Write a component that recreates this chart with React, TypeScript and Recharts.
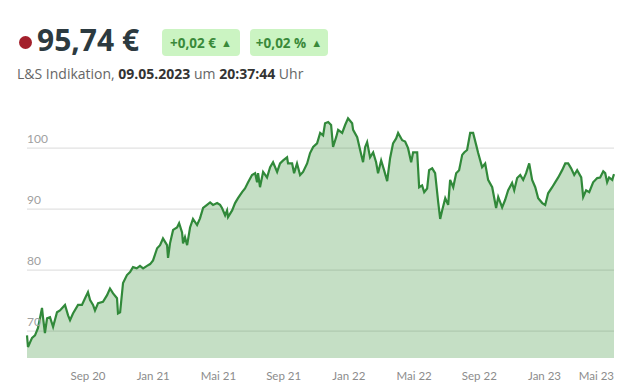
import React from 'react';
import { AreaChart, Area, XAxis, YAxis, CartesianGrid } from 'recharts';

// position on the time axis, in months since Jan 2020 (Sep 20 = 8)
const months = [
  4.26, 4.32, 4.57, 4.75, 4.93, 5.18, 5.24, 5.36, 5.49, 5.67, 5.86, 6.1, 6.28, 6.59, 6.78, 6.9, 7.08, 7.39, 7.63, 7.82,
  8.0, 8.13, 8.31, 8.43, 8.62, 8.92, 9.17, 9.35, 9.54, 9.78, 9.84, 9.97, 10.15, 10.39, 10.58, 10.76, 10.99, 11.19, 11.38, 11.62,
  11.81, 11.99, 12.24, 12.42, 12.6, 12.85, 12.91, 13.03, 13.22, 13.46, 13.59, 13.77, 13.83, 13.95, 14.08, 14.26, 14.44, 14.69, 14.87, 15.06,
  15.3, 15.49, 15.67, 15.92, 16.1, 16.22, 16.41, 16.53, 16.59, 16.84, 17.02, 17.2, 17.45, 17.63, 17.82, 18.06, 18.25, 18.37, 18.43, 18.55,
  18.74, 18.98, 19.17, 19.35, 19.6, 19.78, 19.97, 20.21, 20.27, 20.52, 20.64, 20.82, 21.01, 21.19, 21.44, 21.62, 21.81, 22.05, 22.24, 22.42,
  22.54, 22.73, 22.91, 23.03, 23.22, 23.34, 23.59, 23.77, 23.95, 24.2, 24.26, 24.51, 24.69, 24.87, 25.0, 25.12, 25.3, 25.49, 25.67, 25.79,
  25.98, 26.16, 26.35, 26.41, 26.53, 26.71, 26.9, 27.02, 27.27, 27.45, 27.63, 27.82, 27.94, 28.19, 28.31, 28.49, 28.62, 28.8, 28.92, 29.11,
  29.29, 29.48, 29.6, 29.72, 29.91, 30.09, 30.21, 30.4, 30.58, 30.76, 30.95, 31.07, 31.25, 31.44, 31.62, 31.81, 31.93, 32.17, 32.36, 32.54,
  32.79, 33.03, 33.16, 33.4, 33.58, 33.77, 34.01, 34.14, 34.32, 34.51, 34.69, 34.87, 35.06, 35.24, 35.43, 35.61, 35.86, 36.04, 36.22, 36.47,
  36.65, 36.84, 37.08, 37.27, 37.45, 37.63, 37.82, 38.0, 38.25, 38.37, 38.55, 38.74, 38.98, 39.23, 39.41, 39.6, 39.72, 39.84, 39.96, 40.15,
  40.26,
];

const prices = [
  69.3, 67.4, 68.9, 69.3, 70.5, 73.8, 72.3, 69.7, 72.1, 72.3, 70.7, 73.1, 73.4, 74.3, 72.6, 71.8, 72.9, 74.3, 74.3, 75.4,
  76.4, 75.1, 74.3, 73.4, 74.6, 74.8, 75.9, 77.0, 76.2, 75.4, 72.9, 73.1, 77.9, 79.2, 79.7, 80.5, 80.3, 80.7, 80.3, 80.7,
  81.0, 81.6, 83.6, 84.1, 85.2, 84.1, 82.0, 84.4, 86.6, 87.0, 87.7, 86.2, 84.4, 85.4, 84.1, 87.0, 88.4, 87.4, 88.5, 90.2,
  90.7, 91.1, 90.7, 91.0, 90.7, 90.2, 89.0, 89.8, 88.7, 89.8, 91.0, 91.8, 92.8, 93.4, 94.4, 95.6, 95.9, 94.4, 95.9, 93.6,
  96.1, 95.2, 96.9, 97.7, 96.1, 97.5, 98.0, 98.5, 97.5, 97.5, 95.9, 97.5, 95.6, 96.1, 97.5, 99.2, 100.2, 100.8, 102.5, 102.1,
  104.1, 104.3, 103.8, 100.2, 101.8, 103.0, 102.5, 103.8, 104.9, 104.1, 103.0, 101.8, 99.7, 97.7, 100.2, 101.0, 98.5, 99.3, 97.7, 95.9,
  98.0, 96.4, 94.6, 95.9, 98.4, 100.8, 101.6, 102.5, 101.3, 101.1, 100.0, 97.7, 99.3, 99.3, 93.6, 93.9, 92.8, 93.4, 96.4, 96.7,
  95.9, 91.1, 88.4, 89.8, 91.8, 90.7, 94.8, 93.6, 95.9, 96.4, 98.9, 99.3, 99.7, 102.5, 102.5, 100.5, 99.2, 96.9, 97.5, 94.8,
  93.6, 90.2, 92.0, 90.3, 91.5, 93.1, 94.3, 93.1, 95.1, 95.6, 94.8, 95.9, 97.5, 94.8, 93.6, 91.8, 91.0, 90.7, 92.6, 93.6,
  94.4, 95.2, 96.4, 97.5, 97.5, 96.7, 95.6, 96.4, 95.2, 92.0, 93.1, 92.8, 94.4, 95.1, 95.2, 96.2, 95.9, 94.4, 95.2, 94.8,
  95.74,
];

const xTicks = [8, 12, 16, 20, 24, 28, 32, 36, 40];
const xTickLabels = ['Sep 20', 'Jan 21', 'Mai 21', 'Sep 21', 'Jan 22', 'Mai 22', 'Sep 22', 'Jan 23', 'Mai 23'];
const yTicks = [70, 80, 90, 100];

const data = months.map((t, i) => ({ t, price: prices[i] }));

const tickFont = 'Lato, "Open Sans", sans-serif';

const XTick = ({ x, payload }: any) => {
  const idx = xTicks.indexOf(payload.value);
  const label = xTickLabels[idx] ?? '';
  const nearEdge = x > 598;
  return (
    <text
      x={nearEdge ? 614 : x}
      y={380}
      textAnchor={nearEdge ? 'end' : 'middle'}
      fill="#8c8c8c"
      fontSize={11.5}
      fontFamily={tickFont}
    >
      {label}
    </text>
  );
};

const YTick = ({ y, payload }: any) => (
  <text x={27} y={y - 5} textAnchor="start" fill="#a0a0a0" fontSize={12} fontFamily={tickFont}>
    {payload.value}
  </text>
);

const Badge = ({ left, text }: { left: number; text: string }) => (
  <div
    style={{
      position: 'absolute',
      left,
      top: 29,
      width: 78,
      height: 27,
      background: '#cbf4c2',
      borderRadius: 4,
      color: '#3a8a3a',
      fontWeight: 700,
      fontSize: 13.5,
      display: 'flex',
      alignItems: 'center',
      justifyContent: 'center',
      gap: 5,
    }}
  >
    <span>{text}</span>
    <span style={{ fontSize: 11 }}>▲</span>
  </div>
);

export default function App() {
  return (
    <div
      style={{
        position: 'absolute',
        left: 0,
        top: 0,
        width: 635,
        height: 390,
        background: '#fff',
        fontFamily: '"Open Sans", sans-serif',
      }}
    >
      <div
        style={{
          position: 'absolute',
          left: 19,
          top: 36,
          width: 13,
          height: 13,
          borderRadius: '50%',
          background: '#a3202c',
        }}
      />
      <div
        style={{
          position: 'absolute',
          left: 37,
          top: 20,
          fontSize: 30,
          fontWeight: 700,
          color: '#2c3a40',
          lineHeight: '40px',
        }}
      >
        95,74 €
      </div>
      <Badge left={162} text="+0,02 €" />
      <Badge left={250} text="+0,02 %" />
      <div
        style={{
          position: 'absolute',
          left: 17,
          top: 64,
          fontSize: 14,
          color: '#666',
          lineHeight: '19px',
          whiteSpace: 'nowrap',
        }}
      >
        L&amp;S Indikation, <b style={{ color: '#333' }}>09.05.2023</b> um <b style={{ color: '#333' }}>20:37:44</b> Uhr
      </div>

      <div style={{ position: 'absolute', left: 0, top: 0 }}>
        <AreaChart width={635} height={390} data={data} margin={{ top: 100, right: 21, bottom: 0, left: 26 }}>
          <CartesianGrid vertical={false} horizontalValues={yTicks} stroke="#e2e2e2" strokeWidth={1.2} />
          <Area
            type="linear"
            dataKey="price"
            stroke="#31893a"
            strokeWidth={2.2}
            fill="#2e8b2e"
            fillOpacity={0.28}
            isAnimationActive={false}
            dot={false}
            activeDot={false}
          />
          <XAxis
            dataKey="t"
            type="number"
            domain={[4.26, 40.26]}
            ticks={xTicks}
            axisLine={false}
            tickLine={false}
            height={32}
            tick={<XTick />}
            interval={0}
          />
          <YAxis
            type="number"
            domain={[65.6, 107.9]}
            ticks={yTicks}
            width={1}
            axisLine={false}
            tickLine={false}
            tick={<YTick />}
            interval={0}
          />
        </AreaChart>
      </div>
    </div>
  );
}
